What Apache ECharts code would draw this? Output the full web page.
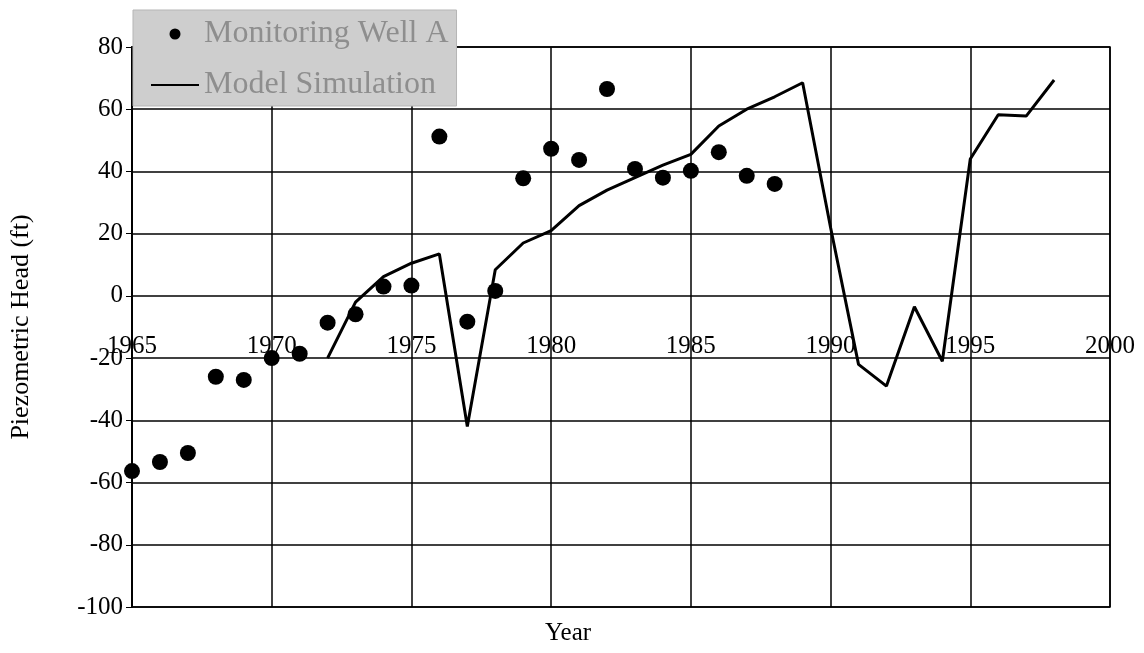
<!DOCTYPE html>
<html>
<head>
<meta charset="utf-8">
<title>Piezometric Head</title>
<script src="https://cdn.jsdelivr.net/npm/echarts@6/dist/echarts.min.js"></script>
<style>
  html, body { margin: 0; padding: 0; background: #fff; }
  #chart { width: 1144px; height: 653px; }
</style>
</head>
<body>
<div id="chart"></div>
<script>
// Monitoring Well A (measured)
const wellYears = [1965, 1966, 1967, 1968, 1969, 1970, 1971, 1972, 1973, 1974, 1975, 1976,
  1977, 1978, 1979, 1980, 1981, 1982, 1983, 1984, 1985, 1986, 1987, 1988]
const wellHead = [-56.3, -53.4, -50.5, -26, -27, -20, -18.6, -8.6, -5.9, 3, 3.3, 51.2,
  -8.3, 1.6, 37.8, 47.3, 43.7, 66.5, 40.8, 38, 40.2, 46.2, 38.6, 36]

// Model Simulation
const simYears = [1972, 1973, 1974, 1975, 1976, 1977, 1978, 1979, 1980, 1981, 1982, 1983,
  1984, 1985, 1986, 1987, 1988, 1989, 1990, 1991, 1992, 1993, 1994, 1995, 1996, 1997, 1998]
const simHead = [-20, -2, 6.2, 10.5, 13.5, -42, 8.4, 17, 21, 29, 34, 38,
  42, 45.5, 54.6, 60, 64, 68.5, 22, -22, -29, -3.5, -21, 44, 58.2, 57.8, 69.4]

const yTicks = { min: -100, max: 80, step: 20 }
const xTicks = { min: 1965, max: 2000, step: 5 }

const serif = 'Liberation Serif'

const chart = echarts.init(document.getElementById('chart'))
chart.setOption({
  animation: false,
  backgroundColor: '#fff',
  textStyle: { fontFamily: serif },
  grid: {
    left: 131,
    right: 34,
    top: 47,
    bottom: 46,
    show: true,
    borderColor: '#000',
    borderWidth: 1.5
  },
  title: {
    text: 'Year',
    left: 540,
    bottom: 2,
    textStyle: { fontFamily: serif, fontSize: 25, fontWeight: 'normal', color: '#000' }
  },
  legend: {
    orient: 'vertical',
    left: 133,
    top: 10,
    padding: [8, 8, 5, 18],
    itemGap: 19,
    itemWidth: 48,
    itemHeight: 11,
    backgroundColor: '#cecece',
    borderColor: '#b5b5b5',
    borderWidth: 1,
    textStyle: { fontFamily: serif, fontSize: 32, color: '#8e8e8e' },
    data: [
      { name: 'Monitoring Well A', icon: 'circle' },
      { name: 'Model Simulation', icon: 'path://M0,0 L48,0 L48,2.2 L0,2.2 Z' }
    ]
  },
  xAxis: {
    type: 'value',
    min: xTicks.min,
    max: xTicks.max,
    interval: xTicks.step,
    // labels sit just under the zero line, like the original
    offset: -311,
    axisLine: { show: false },
    axisTick: { show: false },
    axisLabel: {
      margin: 38,
      color: '#000',
      fontSize: 25,
      fontFamily: serif,
      showMinLabel: true,
      showMaxLabel: true,
      formatter: v => String(v)
    },
    splitLine: { show: true, lineStyle: { color: '#000', width: 1.5 } }
  },
  yAxis: {
    type: 'value',
    min: yTicks.min,
    max: yTicks.max,
    interval: yTicks.step,
    name: 'Piezometric Head (ft)',
    nameLocation: 'middle',
    nameGap: 98,
    nameTextStyle: { fontFamily: serif, fontSize: 26, color: '#000' },
    axisLine: { show: true, lineStyle: { color: '#000', width: 2 } },
    axisTick: { show: true, length: 6, lineStyle: { color: '#000' } },
    axisLabel: { color: '#000', fontSize: 25, fontFamily: serif, margin: 9 },
    splitLine: { show: true, lineStyle: { color: '#000', width: 1.5 } }
  },
  series: [
    {
      name: 'Monitoring Well A',
      type: 'scatter',
      symbol: 'circle',
      symbolSize: 16,
      itemStyle: { color: '#000', opacity: 1 },
      data: wellYears.map((y, i) => [y, wellHead[i]]),
      z: 3
    },
    {
      name: 'Model Simulation',
      type: 'line',
      symbol: 'none',
      lineStyle: { color: '#000', width: 3 },
      itemStyle: { color: '#000' },
      data: simYears.map((y, i) => [y, simHead[i]]),
      z: 4
    }
  ]
})
</script>
</body>
</html>
